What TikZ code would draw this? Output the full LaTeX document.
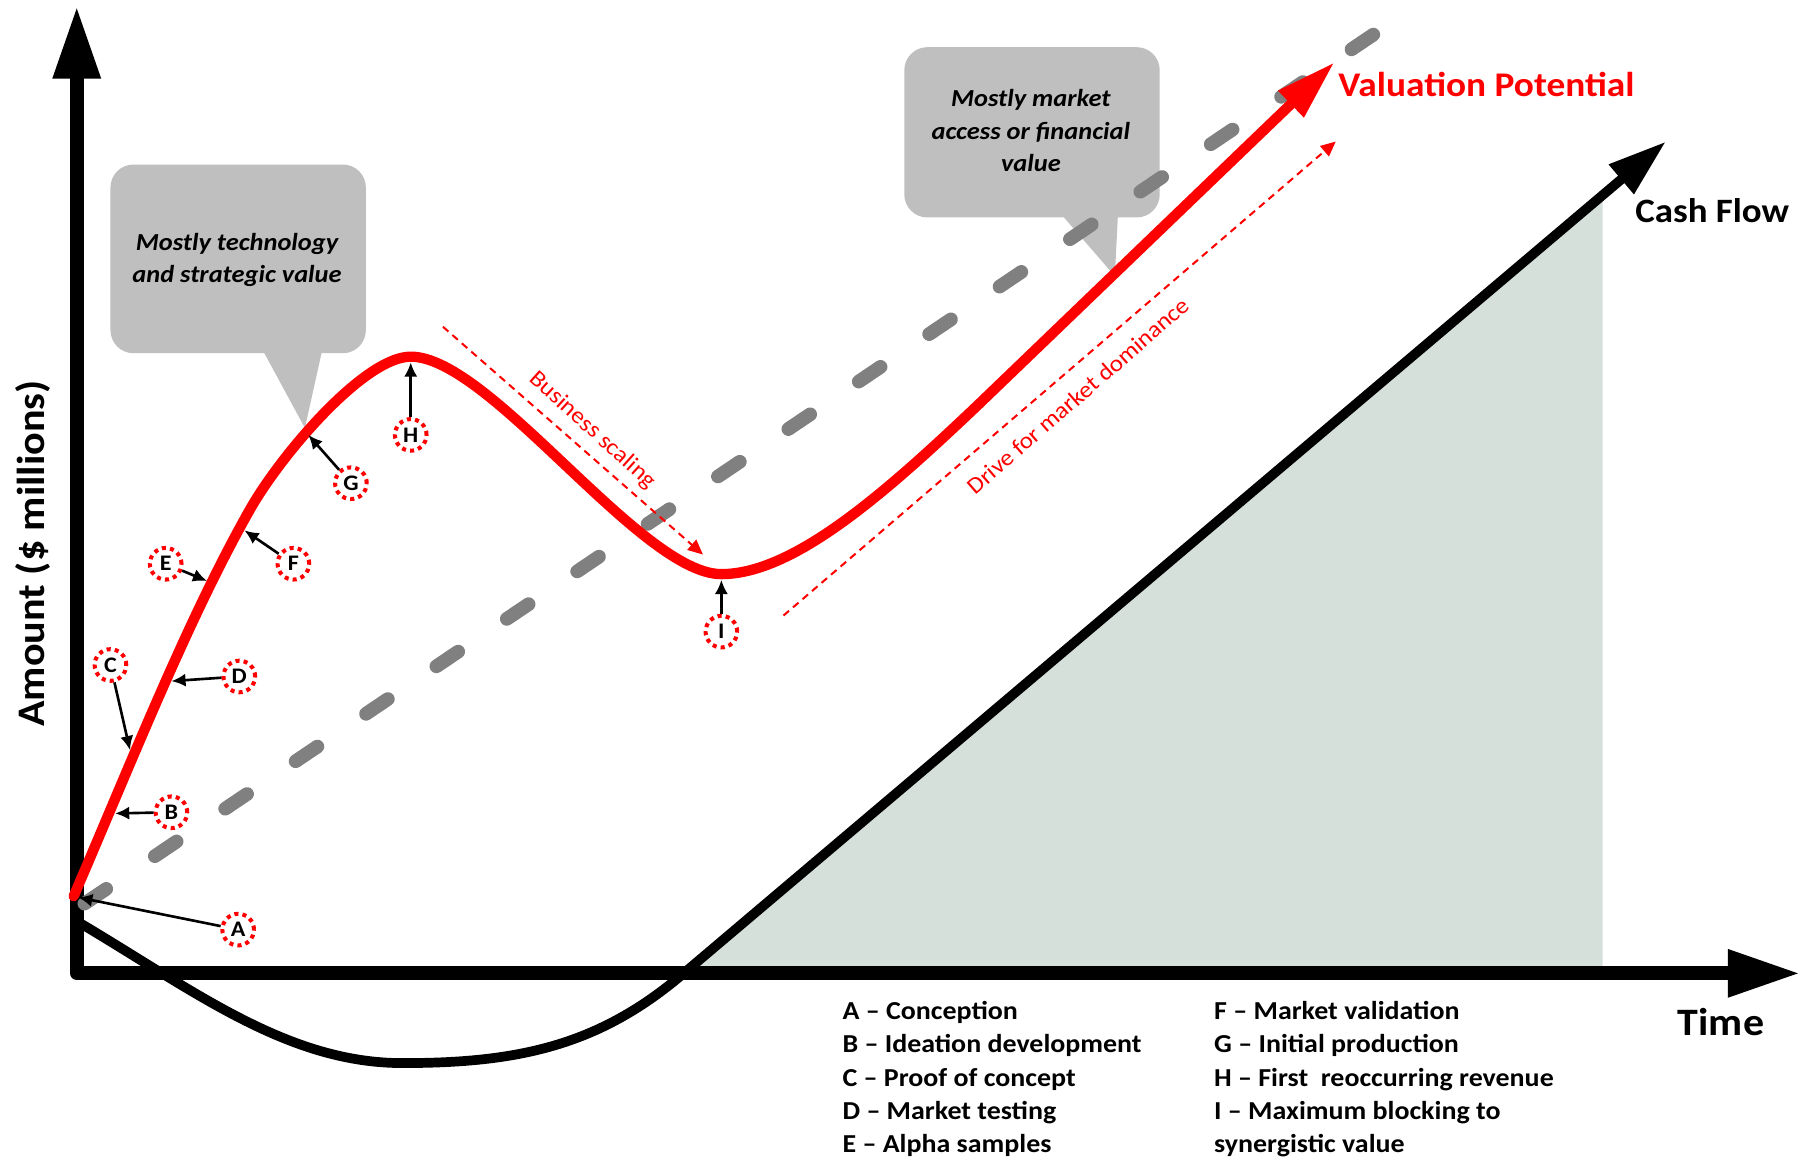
\documentclass[tikz,border=0pt]{standalone}
\usepackage{fontspec}
\setmainfont[FakeStretch=1.08]{Carlito}
\usetikzlibrary{arrows.meta}

\definecolor{valred}{RGB}{255,0,0}
\definecolor{bubblegray}{RGB}{191,191,191}
\definecolor{trendgray}{RGB}{128,128,128}
\definecolor{cashgreen}{RGB}{214,224,219}

\begin{document}
\begin{tikzpicture}[x=0.02cm, y=-0.02cm]
\tikzstyle{axis}=[line width=6.8pt, line join=round, {Triangle[length=36pt,width=22pt]}-{Triangle[length=36pt,width=22pt]}]
\tikzstyle{cashflow}=[black, line width=4.8pt, -{Triangle[length=29pt,width=18pt]}]
\tikzstyle{valuation}=[valred, line width=5.1pt, line cap=round, -{Triangle[length=30pt,width=17pt]}]
\tikzstyle{trend}=[trendgray, line width=6.8pt, line cap=round, dash pattern=on 13pt off 29pt]
\tikzstyle{bubble}=[fill=bubblegray, rounded corners=0.4cm]
\tikzstyle{bubbletext}=[align=center, font=\fontsize{12.1}{15.9}\selectfont\bfseries\itshape]
\tikzstyle{stage}=[circle, minimum size=0.55cm, inner sep=0pt, fill=white, draw=valred, line width=2pt, dash pattern=on 2pt off 2.05pt, font=\fontsize{11}{12}\selectfont\bfseries]
\tikzstyle{connect}=[-{Latex[length=7pt,width=6.5pt]}, line width=1.3pt]
\tikzstyle{phase}=[valred, line width=1pt, dash pattern=on 3.6pt off 2.6pt, -{Triangle[length=7.4pt,width=6.6pt]}]
\tikzstyle{phasetext}=[valred, inner sep=0pt, font=\fontsize{11.5}{13}\selectfont]
\tikzstyle{bigtext}=[inner sep=0pt, font=\bfseries]
\tikzstyle{legend}=[align=left, anchor=base west, inner sep=0pt, font=\fontsize{12.8}{16.5}\selectfont\bfseries]

  \useasboundingbox (0,0) rectangle (1568,1008);

  % area under the cash flow
  \fill[cashgreen] (593,846) -- (1393,170) -- (1393,846) -- cycle;

  % cash flow
  \draw[cashflow] (69,802) .. controls (170,862) and (250,924) .. (350,924)
        .. controls (450,924) and (520,909) .. (593,847) -- (1448,123);

  % axes
  \draw[axis] (66.7,5) -- (66.7,846) -- (1565,846);

  % callouts
  \fill[bubble] (96,143) rectangle (318,307);
  \fill[bubblegray] (226,300) -- (265,372) -- (281,300) -- cycle;
  \fill[bubble] (786,41) rectangle (1008,189);
  \fill[bubblegray] (917,180) -- (969,240) -- (972,180) -- cycle;
  \node[bubbletext] (techval) at (206,226) {Mostly technology\\and strategic value};
  \node[bubbletext] (mktval)  at (896,113.5) {Mostly market\\access or financial\\value};

  % linear trend
  \draw[trend] (73.4,785.4) -- (1196,28.5);

  % phases
  \coordinate (bsFrom) at (385,284);
  \coordinate (bsTo)   at (611,482);
  \coordinate (dmFrom) at (681,535);
  \coordinate (dmTo)   at (1161,123);
  \draw[phase] (bsFrom) -- (bsTo);
  \draw[phase] (dmFrom) -- (dmTo);
  \node[phasetext, rotate=-42] (bslabel) at (515,374) {Business scaling};
  \node[phasetext, rotate=41]  (dmlabel) at (937,344) {Drive for market dominance};

  % valuation potential
  \draw[valuation] (64,779) .. controls (111.3,669.6) and (162.8,538.6) .. (217.5,442.4)
        .. controls (244.7,394.6) and (317,310) .. (357,310)
        .. controls (426,310) and (557,499) .. (627,499)
        .. controls (690,499) and (770,428) .. (850,352) -- (1160,54);

  % stages
  \coordinate (pA) at (68,780);
  \coordinate (pB) at (100,707);
  \coordinate (pC) at (113,652);
  \coordinate (pD) at (149,592);
  \coordinate (pE) at (180,505);
  \coordinate (pF) at (212.5,461);
  \coordinate (pG) at (268,378);
  \coordinate (pH) at (357,315);
  \coordinate (pI) at (627,504);

  \node[stage] (sA) at (207,808) {A};
  \node[stage] (sB) at (149,706) {B};
  \node[stage] (sC) at (96,578)  {C};
  \node[stage] (sD) at (208,588) {D};
  \node[stage] (sE) at (144,490) {E};
  \node[stage] (sF) at (255,490) {F};
  \node[stage] (sG) at (305,420) {G};
  \node[stage] (sH) at (357,378) {H};
  \node[stage] (sI) at (627,549) {I};

  \path (sA) edge [connect] (pA)
        (sB) edge [connect] (pB)
        (sC) edge [connect] (pC)
        (sD) edge [connect] (pD)
        (sE) edge [connect] (pE)
        (sF) edge [connect] (pF)
        (sG) edge [connect] (pG)
        (sH) edge [connect] (pH)
        (sI) edge [connect] (pI);

  % labels
  \node[bigtext, valred, anchor=base west, font=\fontsize{17.1}{18}\selectfont\bfseries] (vallabel) at (1163,84) {Valuation Potential};
  \node[bigtext, anchor=base west, font=\fontsize{16.9}{18}\selectfont\bfseries] (cashlabel) at (1421,193) {Cash Flow};
  \node[bigtext, anchor=base west, font=\fontsize{19.2}{20}\selectfont\bfseries] (timelabel) at (1458,900) {Time};
  \node[bigtext, anchor=base, rotate=90, font=\fontsize{19.3}{20}\selectfont\bfseries] (amountlabel) at (38.5,481) {Amount (\$ millions)};

  % legend
  \node[legend] (legleft) at (732,1002) {A – Conception\\B – Ideation development\\C – Proof of concept\\D – Market testing\\E – Alpha samples};
  \node[legend] (legright) at (1055,1002) {F – Market validation\\G – Initial production\\H – First\ \ reoccurring revenue\\I – Maximum blocking to\\synergistic value};

\end{tikzpicture}
\end{document}
